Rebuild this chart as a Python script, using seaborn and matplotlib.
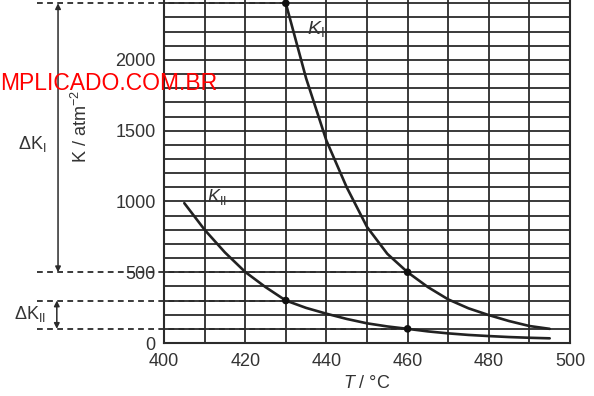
# -*- coding: utf-8 -*-
import matplotlib
matplotlib.use("Agg")
import pandas as pd
import matplotlib.pyplot as plt
import seaborn as sns

# ====== DATA ======
T_I = [430, 435, 440, 445, 450, 455, 460, 465, 470, 475, 480, 485, 490, 495]
K_I = [2400, 1870, 1430, 1100, 820, 630, 500, 395, 308, 245, 197, 155, 120, 100]

T_II = [405, 410, 415, 420, 425, 430, 435, 440, 445, 450, 455, 460,
        465, 470, 475, 480, 485, 490, 495]
K_II = [988, 800, 640, 502, 395, 300, 248, 207, 170, 139, 117, 100,
        82, 68, 57, 49, 42, 37, 33]

# marked points used for the delta-K construction
MARK_T = [430, 460]
MARK_KI = [2400, 500]
MARK_KII = [300, 100]

X_TICKS = [400, 420, 440, 460, 480, 500]
Y_TICKS = [0, 500, 1000, 1500, 2000]
# ========================================

INK = "#2b2b2b"
TXT = "#333333"

sns.set_style("white")
plt.rcParams["font.family"] = ["Liberation Sans", "DejaVu Sans"]
plt.rcParams["mathtext.fontset"] = "custom"
plt.rcParams["mathtext.rm"] = "Liberation Sans"
plt.rcParams["mathtext.it"] = "Liberation Sans:italic"


def main():
    df = pd.concat([
        pd.DataFrame({"T": T_I, "K": K_I, "curve": "KI"}),
        pd.DataFrame({"T": T_II, "K": K_II, "curve": "KII"}),
    ])
    pts = pd.DataFrame({"T": MARK_T * 2, "K": MARK_KI + MARK_KII})

    fig = plt.figure(figsize=(5.94, 3.96), dpi=100)
    ax = fig.add_axes([164 / 594, 53 / 396, 406 / 594, 343 / 396])

    # ---- grid ----
    ax.set_xlim(400, 500)
    ax.set_ylim(0, 2423)
    ax.set_xticks(X_TICKS)
    ax.set_xticks(range(400, 501, 10), minor=True)
    ax.set_yticks(Y_TICKS)
    ax.set_yticks(range(0, 2401, 100), minor=True)
    ax.grid(True, which="both", color=INK, lw=1.3)
    ax.set_axisbelow(True)
    ax.tick_params(which="both", length=0, labelsize=13, colors=TXT)
    ax.tick_params(axis="x", pad=7)
    ax.tick_params(axis="y", pad=6)
    for side in ["left", "bottom", "right"]:
        ax.spines[side].set_color(INK)
        ax.spines[side].set_linewidth(1.5)
    ax.spines["top"].set_visible(False)

    # ---- curves ----
    sns.lineplot(data=df, x="T", y="K", units="curve", estimator=None,
                 color="#222222", lw=1.9, ax=ax, sort=True, zorder=5)
    sns.scatterplot(data=pts, x="T", y="K", color="#111111", s=30,
                    edgecolor="none", ax=ax, zorder=6)

    # ---- dashed reference lines (extend past the axis) ----
    x_left = 368.7
    for t, k in zip(MARK_T * 2, MARK_KI + MARK_KII):
        ax.plot([x_left, t], [k, k], ls=(0, (3.2, 2.4)), color=INK,
                lw=1.3, clip_on=False, zorder=4)

    # ---- delta arrows ----
    arrow = dict(arrowstyle="<|-|>", color=INK, lw=1.1, mutation_scale=8,
                 shrinkA=0, shrinkB=0)
    ax.annotate("", xy=(373.9, MARK_KI[1]), xytext=(373.9, MARK_KI[0]),
                arrowprops=arrow, annotation_clip=False)
    ax.annotate("", xy=(373.6, MARK_KII[1]), xytext=(373.6, MARK_KII[0]),
                arrowprops=arrow, annotation_clip=False)
    ax.text(367.5, 1408, r"ΔK$_\mathrm{I}$", fontsize=13, color=TXT,
            ha="center", va="center", clip_on=False)
    ax.text(367.0, 205, r"ΔK$_\mathrm{II}$", fontsize=13, color=TXT,
            ha="center", va="center", clip_on=False)

    # ---- curve labels ----
    ax.text(437.5, 2215, r"$K_\mathrm{I}$", fontsize=14, color=TXT,
            ha="center", va="center", zorder=7)
    ax.text(413, 1030, r"$K_\mathrm{II}$", fontsize=13, color=TXT,
            ha="center", va="center", zorder=7)

    # ---- axis labels ----
    ax.set_xlabel(r"$T$ / °C", fontsize=13, color=TXT, labelpad=4)
    ax.set_ylabel(r"K / atm$^{-2}$", fontsize=13, color=TXT)
    ax.yaxis.set_label_coords(-0.18, 0.63)

    # ---- watermark ----
    fig.text(0.0, 1 - 83 / 396, "MPLICADO.COM.BR", color="red",
             fontsize=16.5, ha="left", va="center")

    fig.savefig("out.png", dpi=100)
    plt.close(fig)


if __name__ == "__main__":
    main()
